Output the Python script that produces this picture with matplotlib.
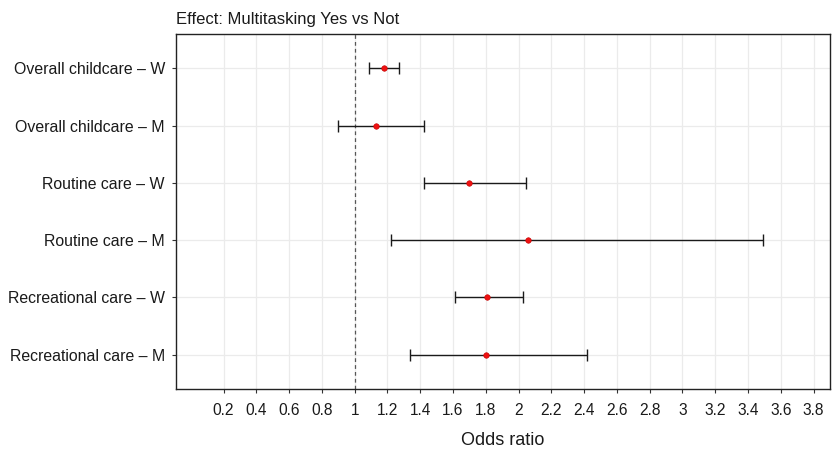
import matplotlib
matplotlib.use("Agg")
import matplotlib.pyplot as plt
import numpy as np

plt.rcParams['font.family'] = ['Liberation Sans', 'DejaVu Sans']

labels = ["Overall childcare \u2013 W", "Overall childcare \u2013 M",
          "Routine care \u2013 W", "Routine care \u2013 M",
          "Recreational care \u2013 W", "Recreational care \u2013 M"]
odds = [1.18, 1.13, 1.70, 2.06, 1.81, 1.80]
lower = [1.09, 0.90, 1.42, 1.22, 1.615, 1.34]
upper = [1.27, 1.42, 2.045, 3.49, 2.03, 2.42]
xticks = [0.2, 0.4, 0.6, 0.8, 1, 1.2, 1.4, 1.6, 1.8, 2, 2.2, 2.4, 2.6, 2.8, 3,
          3.2, 3.4, 3.6, 3.8]
xticklabels = ["0.2", "0.4", "0.6", "0.8", "1", "1.2", "1.4", "1.6", "1.8", "2",
               "2.2", "2.4", "2.6", "2.8", "3", "3.2", "3.4", "3.6", "3.8"]

fig = plt.figure(figsize=(8.37, 4.49), dpi=100)
ax = fig.add_axes([176/837, 1-389/449, (830-176)/837, (389-34)/449])

y = np.arange(len(labels))[::-1] + 1
odds_a = np.array(odds)
err = np.vstack([odds_a - np.array(lower), np.array(upper) - odds_a])

ax.set_xticks(xticks)
ax.set_xticklabels(xticklabels)
ax.set_yticks(y)
ax.set_yticklabels(labels)
ax.grid(True, color='#ebebeb', linewidth=0.9, zorder=0)
ax.set_axisbelow(True)

ax.axvline(1, color='#555555', linestyle=(0, (3, 2.5)), linewidth=0.9, zorder=1)
ax.errorbar(odds_a, y, xerr=err, fmt='none', ecolor='#1a1a1a', elinewidth=1.0,
            capsize=4, capthick=1.0, zorder=2)
ax.scatter(odds_a, y, s=16, color='#ee1111', zorder=3, edgecolors='#c00000',
           linewidths=0.4)

ax.set_xlim(-0.09, 3.9)
ax.set_ylim(0.4, 6.6)

for s in ax.spines.values():
    s.set_color('#222222')
    s.set_linewidth(1.0)
ax.tick_params(axis='both', length=3, color='#333333',
               labelcolor='#1a1a1a', width=0.8)
ax.tick_params(axis='x', pad=7, labelsize=11.2)
ax.tick_params(axis='y', pad=5, labelsize=11.4)

ax.set_xlabel("Odds ratio", fontsize=13, color='#1a1a1a', labelpad=10)
ax.set_title("Effect: Multitasking Yes vs Not", fontsize=12, loc='left',
             color='#1a1a1a', pad=7)

fig.savefig("out.png", dpi=100)
